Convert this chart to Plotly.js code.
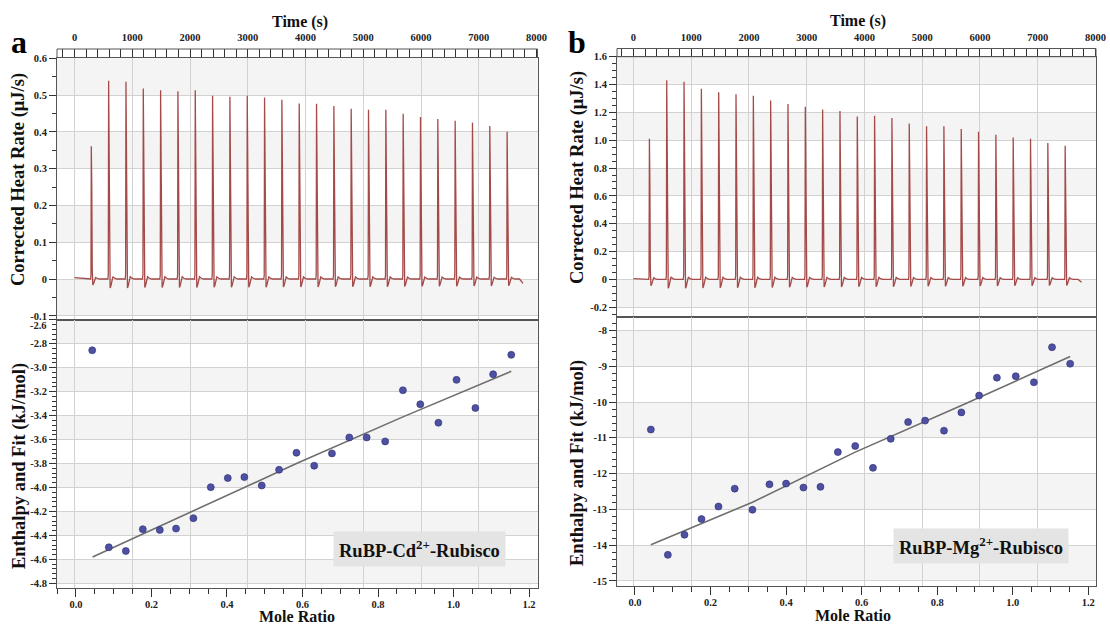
<!DOCTYPE html>
<html>
<head>
<meta charset="utf-8">
<script src="https://cdn.plot.ly/plotly-3.0.1.min.js"></script>
<style>html,body{margin:0;padding:0;background:#fff;}#chart{width:1110px;height:626px;}</style>
</head>
<body>
<div id="chart"></div>
<script>
// ---------- DATA ----------
const timeTicks = [0, 1000, 2000, 3000, 4000, 5000, 6000, 7000, 8000];
const timeTickText = ["0", "1000", "2000", "3000", "4000", "5000", "6000", "7000", "8000"];

const moleTicks = [0, 0.2, 0.4, 0.6, 0.8, 1.0, 1.2];
const moleTickText = ["0.0", "0.2", "0.4", "0.6", "0.8", "1.0", "1.2"];

const heatTicksA = [0.6, 0.5, 0.4, 0.3, 0.2, 0.1, 0, -0.1];
const heatTickTextA = ["0.6", "0.5", "0.4", "0.3", "0.2", "0.1", "0", "-0.1"];
const enthTicksA = [-2.6, -2.8, -3.0, -3.2, -3.4, -3.6, -3.8, -4.0, -4.2, -4.4, -4.6, -4.8];
const enthTickTextA = ["-2.6", "-2.8", "-3.0", "-3.2", "-3.4", "-3.6", "-3.8", "-4.0", "-4.2", "-4.4", "-4.6", "-4.8"];

const heatTicksB = [1.6, 1.4, 1.2, 1.0, 0.8, 0.6, 0.4, 0.2, 0, -0.2];
const heatTickTextB = ["1.6", "1.4", "1.2", "1.0", "0.8", "0.6", "0.4", "0.2", "0", "-0.2"];
const enthTicksB = [-8, -9, -10, -11, -12, -13, -14, -15];
const enthTickTextB = ["-8", "-9", "-10", "-11", "-12", "-13", "-14", "-15"];

// injection times (s) and peak heights (µJ/s)
const injTimesA = [285, 585, 885, 1185, 1485, 1785, 2085, 2385, 2685, 2985, 3285, 3585, 3885, 4185, 4485, 4785, 5085, 5385, 5685, 5985, 6285, 6585, 6885, 7185, 7485];
const peakHeightsA = [0.361, 0.539, 0.536, 0.518, 0.513, 0.510, 0.513, 0.498, 0.495, 0.498, 0.493, 0.487, 0.477, 0.476, 0.470, 0.463, 0.460, 0.460, 0.449, 0.440, 0.435, 0.430, 0.425, 0.416, 0.400];
const injTimesB = [270, 570, 870, 1170, 1470, 1770, 2070, 2370, 2670, 2970, 3270, 3570, 3870, 4170, 4470, 4770, 5070, 5370, 5670, 5970, 6270, 6570, 6870, 7170, 7470];
const peakHeightsB = [1.01, 1.43, 1.42, 1.37, 1.345, 1.33, 1.32, 1.285, 1.26, 1.24, 1.22, 1.21, 1.17, 1.175, 1.16, 1.12, 1.10, 1.10, 1.08, 1.06, 1.04, 1.02, 1.01, 0.98, 0.96];
// per-injection peak profile: time offset (s) and fraction of peak height
const profileOffsets = [-8, 0, 6, 14, 22, 32, 45, 60, 80, 110, 150];
const profileFractions = [0, 0.02, 1, 0.7, 0.08, -0.045, -0.035, -0.005, 0.012, 0.004, 0];
const baselineStartA = 0.004, traceEndA = 7766, baselineEndA = -0.012;
const baselineStartB = 0.005, traceEndB = 7760, baselineEndB = -0.02;

// integrated enthalpy points
const moleA = [0.043, 0.087, 0.132, 0.177, 0.222, 0.265, 0.311, 0.357, 0.402, 0.446, 0.492, 0.538, 0.584, 0.631, 0.678, 0.724, 0.770, 0.819, 0.866, 0.912, 0.960, 1.008, 1.058, 1.105, 1.153];
const enthA = [-2.854, -4.499, -4.530, -4.348, -4.354, -4.343, -4.256, -3.997, -3.921, -3.913, -3.983, -3.852, -3.710, -3.818, -3.715, -3.582, -3.582, -3.615, -3.188, -3.305, -3.459, -3.101, -3.336, -3.054, -2.892];
const fitMoleA = [0.044, 0.33, 0.584, 0.866, 1.153];
const fitEnthA = [-4.58, -4.17, -3.80, -3.41, -3.03];

const moleB = [0.042, 0.087, 0.131, 0.176, 0.221, 0.264, 0.311, 0.356, 0.400, 0.446, 0.491, 0.537, 0.583, 0.630, 0.677, 0.723, 0.768, 0.818, 0.864, 0.911, 0.958, 1.008, 1.056, 1.104, 1.152];
const enthB = [-10.77, -14.27, -13.71, -13.27, -12.92, -12.42, -13.01, -12.30, -12.28, -12.39, -12.37, -11.40, -11.23, -11.84, -11.03, -10.56, -10.52, -10.80, -10.29, -9.82, -9.32, -9.28, -9.45, -8.47, -8.93];
const fitMoleB = [0.042, 0.311, 0.583, 0.864, 1.152];
const fitEnthB = [-13.99, -12.80, -11.40, -10.10, -8.73];

const labelA = "RuBP-Cd<sup>2+</sup>-Rubisco";
const labelB = "RuBP-Mg<sup>2+</sup>-Rubisco";

// ---------- BUILD ----------
function thermogram(inj, peaks, v0, tEnd, vEnd) {
  const x = [0], y = [v0];
  inj.forEach((t, i) => {
    profileOffsets.forEach((o, j) => { x.push(t + o); y.push(profileFractions[j] * peaks[i]); });
  });
  x.push(tEnd - 60); y.push(0);
  x.push(tEnd); y.push(vEnd);
  return {x, y};
}
const thA = thermogram(injTimesA, peakHeightsA, baselineStartA, traceEndA, baselineEndA);
const thB = thermogram(injTimesB, peakHeightsB, baselineStartB, traceEndB, baselineEndB);

function steps(lo, hi, step) {
  const out = [];
  const a = Math.min(lo, hi), b = Math.max(lo, hi);
  const n0 = Math.ceil(a / step - 1e-9), n1 = Math.floor(b / step + 1e-9);
  for (let n = n0; n <= n1; n++) out.push(+(n * step).toFixed(6));
  return out;
}

const W = 1110, H = 626;
const px = v => v / W, py = v => 1 - v / H;
const domA = [px(57), px(537.5)], domB = [px(617), px(1096)];
const topA = [py(319.5), py(57.5)], botA = [py(588), py(319.5)];
const topB = [py(316.7), py(56.7)], botB = [py(586), py(316.7)];

const tickFont = {family: "Liberation Serif", size: 10.5, color: "#222", weight: "bold"};
const gridC = "#d2d2d2", lineC = "#555", tickC = "#333";

const rangeTimeA = [-303, 8017], rangeTimeB = [-285, 8010];
const rangeMoleA = [-0.0503, 1.2225], rangeMoleB = [-0.0476, 1.2204];
const rangeHeatA = [-0.110, 0.602], rangeEnthA = [-4.839, -2.597];
const rangeHeatB = [-0.268, 1.6], rangeEnthB = [-15.14, -7.617];

const lineColor = "#a44a48";
const ghost = (xa, ya, x, y) => ({x: [x], y: [y], xaxis: xa, yaxis: ya, type: "scatter", mode: "markers", marker: {opacity: 0}, hoverinfo: "skip"});
const traces = [
  {x: thA.x, y: thA.y, xaxis: "x", yaxis: "y", type: "scatter", mode: "lines", line: {color: lineColor, width: 1.3}, hoverinfo: "skip"},
  {x: fitMoleA, y: fitEnthA, xaxis: "x2", yaxis: "y2", type: "scatter", mode: "lines", line: {color: "#6e6e6e", width: 1.6}},
  {x: moleA, y: enthA, xaxis: "x2", yaxis: "y2", type: "scatter", mode: "markers", marker: {size: 7, color: "#4d50a3", line: {color: "#2b2c6e", width: 0.6}}},
  {x: thB.x, y: thB.y, xaxis: "x3", yaxis: "y3", type: "scatter", mode: "lines", line: {color: lineColor, width: 1.3}, hoverinfo: "skip"},
  {x: fitMoleB, y: fitEnthB, xaxis: "x4", yaxis: "y4", type: "scatter", mode: "lines", line: {color: "#6e6e6e", width: 1.6}},
  {x: moleB, y: enthB, xaxis: "x4", yaxis: "y4", type: "scatter", mode: "markers", marker: {size: 7, color: "#4d50a3", line: {color: "#2b2c6e", width: 0.6}}},
  ghost("x5", "y2", 0, -3), ghost("x6", "y4", 0, -10),
  // helper subplots carrying the minor ticks
  ghost("x7", "y", 0, 0), ghost("x", "y5", 0, 0),
  ghost("x8", "y2", 0.5, -3), ghost("x2", "y6", 0.5, -3),
  ghost("x9", "y3", 0, 0), ghost("x3", "y7", 0, 0),
  ghost("x10", "y4", 0.5, -10), ghost("x4", "y8", 0.5, -10)
];

function timeAxis(dom, range, anchor) {
  return {domain: dom, range: range, anchor: anchor, side: "top", tickmode: "array", tickvals: timeTicks, ticktext: timeTickText,
    ticks: "outside", ticklen: 8, tickcolor: tickC, tickwidth: 1, tickfont: tickFont, ticklabelstandoff: 3,
    showgrid: true, gridcolor: gridC, gridwidth: 1, zeroline: false, showline: true, linecolor: lineC, linewidth: 1, mirror: true};
}
function moleAxis(dom, range, anchor) {
  return {domain: dom, range: range, anchor: anchor, side: "bottom", tickmode: "array", tickvals: moleTicks, ticktext: moleTickText,
    ticks: "outside", ticklen: 8, tickcolor: tickC, tickfont: tickFont, ticklabelstandoff: -2, showgrid: false, zeroline: false,
    showline: true, linecolor: lineC, linewidth: 1, mirror: true};
}
function gridTimeAxis(range, overlay, anchor) {
  return {range: range, overlaying: overlay, anchor: anchor, side: "top", tickmode: "array", tickvals: timeTicks, showticklabels: false,
    ticks: "", showgrid: true, gridcolor: gridC, zeroline: false, showline: false};
}
function minorAxis(range, overlay, anchor, side, step, len) {
  const vals = steps(range[0], range[1], step);
  return {range: range, overlaying: overlay, anchor: anchor, side: side, tickmode: "array", tickvals: vals, showticklabels: false,
    ticks: "outside", ticklen: len, tickcolor: tickC, tickwidth: 1, showgrid: false, zeroline: false, showline: false};
}
function yAxis(dom, range, anchor, vals, text) {
  return {domain: dom, range: range, anchor: anchor, tickmode: "array", tickvals: vals, ticktext: text,
    ticks: "outside", ticklen: 7, tickcolor: tickC, tickfont: tickFont, showgrid: true, gridcolor: gridC, zeroline: false,
    showline: true, linecolor: lineC, linewidth: 1, mirror: true};
}

// alternating background bands between major ticks
function bands(vals, xref, yref) {
  const s = [];
  for (let i = 0; i + 1 < vals.length; i += 2) {
    s.push({type: "rect", xref: xref + " domain", yref: yref, x0: 0, x1: 1, y0: vals[i], y1: vals[i + 1],
      fillcolor: "#f4f4f4", line: {width: 0}, layer: "below"});
  }
  return s;
}
const shapes = [].concat(
  bands(heatTicksA, "x", "y"), bands(enthTicksA, "x2", "y2"),
  bands(heatTicksB, "x3", "y3"), bands(enthTicksB, "x4", "y4"),
  [{type: "rect", xref: "paper", yref: "paper", x0: domA[0], x1: domA[1], y0: topA[1], y1: py(49), line: {color: lineC, width: 1}},
   {type: "rect", xref: "paper", yref: "paper", x0: domB[0], x1: domB[1], y0: topB[1], y1: py(48.5), line: {color: lineC, width: 1}}]
);

const titleFont = {family: "Liberation Serif", size: 16, color: "#111", weight: "bold"};
const yTitleFont = {family: "Liberation Serif", size: 18.5, color: "#111", weight: "bold"};
function ann(text, x, y, font, extra) {
  return Object.assign({text: text, x: x, y: y, xref: "paper", yref: "paper", xanchor: "center", yanchor: "middle", showarrow: false, font: font}, extra || {});
}
const boxFont = {family: "Liberation Serif", size: 18.5, color: "#111", weight: "bold"};
// first tick label of the lower-left panel sits just under the last one of the upper panel; drawn slightly lower as in the original
const enthTextA = enthTickTextA.map((t, i) => (i === 0 ? "" : t));
const annotations = [
  ann("a", px(19), py(42), {family: "Liberation Serif", size: 32, color: "#000", weight: "bold"}),
  ann("b", px(577), py(42), {family: "Liberation Serif", size: 32, color: "#000", weight: "bold"}),
  ann("Time (s)", px(300), py(22), titleFont),
  ann("Time (s)", px(858), py(21), titleFont),
  ann("Corrected Heat Rate (μJ/s)", px(19), py(180), yTitleFont, {textangle: -90}),
  ann("Enthalpy and Fit (kJ/mol)", px(19), py(466), yTitleFont, {textangle: -90}),
  ann("Corrected Heat Rate (μJ/s)", px(577), py(178), yTitleFont, {textangle: -90}),
  ann("Enthalpy and Fit (kJ/mol)", px(577), py(463), yTitleFont, {textangle: -90}),
  ann("Mole Ratio", px(297), py(616), titleFont),
  ann("Mole Ratio", px(853), py(615), titleFont),
  ann(enthTickTextA[0], px(48.5), py(325.5), tickFont, {xanchor: "right"}),
  ann(labelA, px(419), py(549), boxFont, {bgcolor: "#e4e4e4", borderpad: 5}),
  ann(labelB, px(981), py(546), boxFont, {bgcolor: "#e4e4e4", borderpad: 5})
];

const layout = {
  width: W, height: H, autosize: false, showlegend: false,
  margin: {l: 0, r: 0, t: 0, b: 0},
  paper_bgcolor: "#fff", plot_bgcolor: "#fff",
  xaxis: timeAxis(domA, rangeTimeA, "y"),
  yaxis: yAxis(topA, rangeHeatA, "x", heatTicksA, heatTickTextA),
  xaxis2: moleAxis(domA, rangeMoleA, "y2"),
  yaxis2: yAxis(botA, rangeEnthA, "x2", enthTicksA, enthTextA),
  xaxis3: timeAxis(domB, rangeTimeB, "y3"),
  yaxis3: yAxis(topB, rangeHeatB, "x3", heatTicksB, heatTickTextB),
  xaxis4: moleAxis(domB, rangeMoleB, "y4"),
  yaxis4: yAxis(botB, rangeEnthB, "x4", enthTicksB, enthTickTextB),
  xaxis5: gridTimeAxis(rangeTimeA, "x2", "y2"),
  xaxis6: gridTimeAxis(rangeTimeB, "x4", "y4"),
  xaxis7: minorAxis(rangeTimeA, "x", "y", "top", 200, 8),
  yaxis5: minorAxis(rangeHeatA, "y", "x", "left", 0.05, 4),
  xaxis8: minorAxis(rangeMoleA, "x2", "y2", "bottom", 0.05, 5),
  yaxis6: minorAxis(rangeEnthA, "y2", "x2", "left", 0.04, 4),
  xaxis9: minorAxis(rangeTimeB, "x3", "y3", "top", 200, 8),
  yaxis7: minorAxis(rangeHeatB, "y3", "x3", "left", 0.05, 4),
  xaxis10: minorAxis(rangeMoleB, "x4", "y4", "bottom", 0.05, 5),
  yaxis8: minorAxis(rangeEnthB, "y4", "x4", "left", 0.2, 4),
  shapes: shapes,
  annotations: annotations
};

Plotly.newPlot("chart", traces, layout, {staticPlot: true, displayModeBar: false});
</script>
</body>
</html>
